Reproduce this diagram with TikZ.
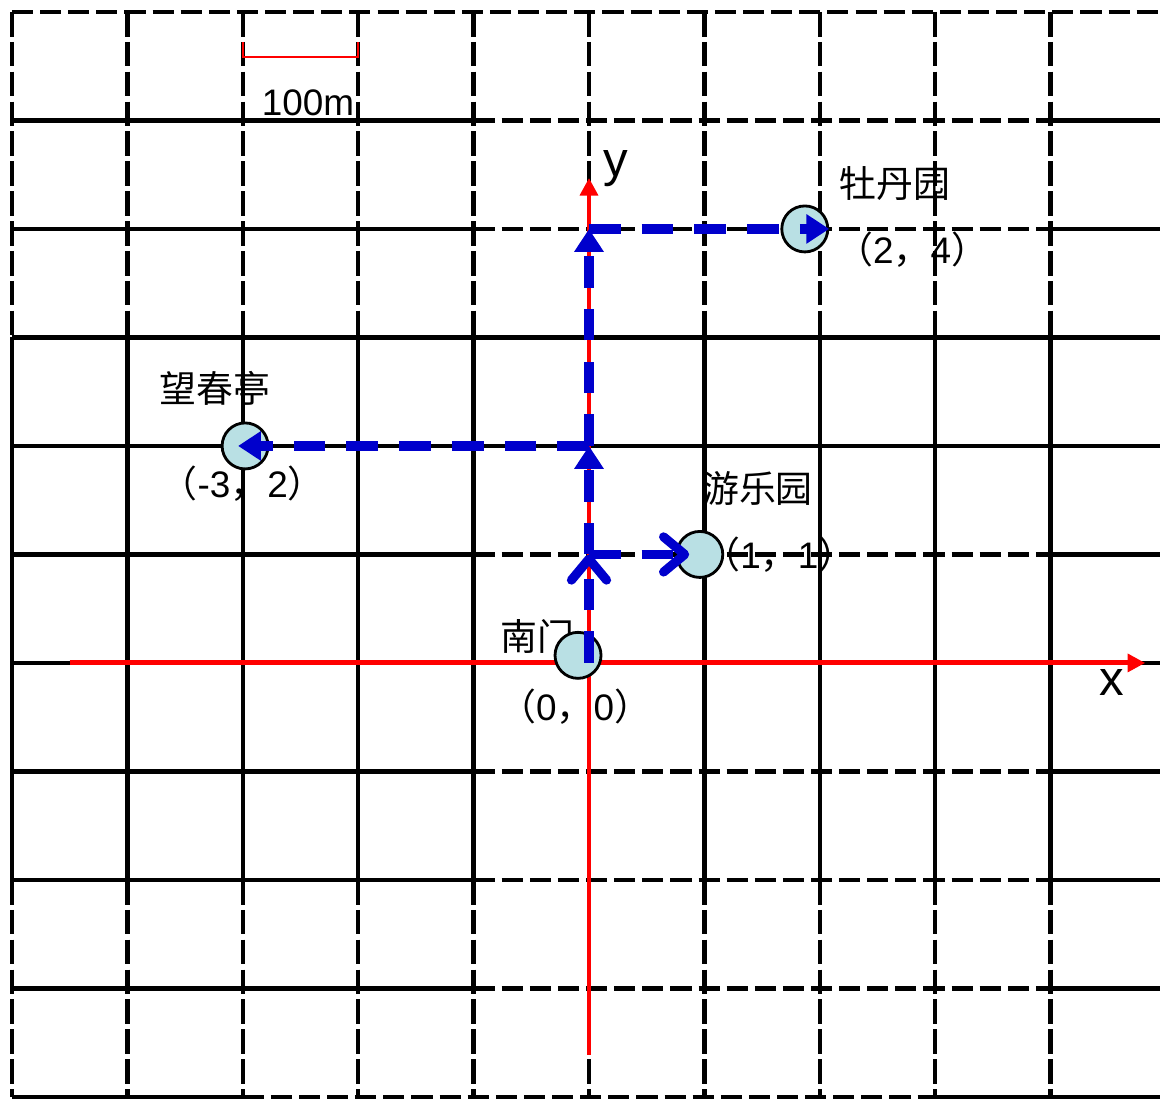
\documentclass[tikz,border=0pt]{standalone}
\usepackage{fontspec}
\setmainfont{Liberation Sans}
\newfontfamily\cjk{Noto Sans CJK SC}
\usetikzlibrary{arrows.meta}
\definecolor{routeblue}{RGB}{0,0,204}
\definecolor{spotcyan}{RGB}{185,224,228}
\newcommand{\ptxy}[2]{{\cjk （}#1{\cjk ，}#2{\cjk ）}}

\begin{document}
\begin{tikzpicture}[x=1.154cm, y=1.085cm,
    gridsolid/.style={line width=1.25pt, black},
    griddash/.style={line width=1.25pt, black, dash pattern=on 6pt off 2pt},
    vdash/.style={line width=1.25pt, black, dash pattern=on 7pt off 1.5pt},
    axis/.style={line width=1.4pt, red, -{Triangle[length=5pt,width=5pt]}},
    route/.style={line width=2.6pt, routeblue, dash pattern=on 9pt off 6pt},
    fillhead/.style={-{Triangle[length=6.5pt,width=8pt]}},
    openhead/.style={-{Straight Barb[length=6pt,width=10pt,round]}},
    spot/.style={circle, draw, line width=0.8pt, fill=spotcyan, minimum size=0.46cm, inner sep=0pt},
    lbl/.style={font=\fontsize{10.5}{12}\selectfont\cjk, inner sep=0pt},
    coord/.style={font=\fontsize{10.5}{12}\selectfont, inner sep=0pt},
    axlbl/.style={font=\fontsize{14}{16}\selectfont, inner sep=0pt}
]
\useasboundingbox (-5.104,-4.02) rectangle (4.948,6.11);

% grid
\foreach \i in {-5,...,4} {
  \draw[vdash] (\i,6) -- (\i,3);
  \draw[gridsolid] (\i,3) -- (\i,-2);
  \draw[vdash] (\i,-2) -- (\i,-4);
}
\draw[griddash] (-5,6) -- (4.95,6);
\foreach \j in {5,4,1,-1,-2,-3} {
  \draw[gridsolid] (-5,\j) -- (-1,\j);
  \draw[griddash] (-1,\j) -- (4,\j);
  \draw[gridsolid] (4,\j) -- (4.95,\j);
}
\foreach \j in {3,2,0} \draw[gridsolid] (-5,\j) -- (4.95,\j);
\draw[gridsolid] (-5,-4) -- (-3,-4);
\draw[griddash] (-3,-4) -- (3,-4);
\draw[gridsolid] (3,-4) -- (4.95,-4);

% scale
\draw[red, line width=0.7pt] (-3,5.72) |- (-2,5.585) -- (-2,5.72);
\node[coord] (scale) at (-2.435,5.16) {100m};

% axes
\coordinate (xstart) at (-4.5,0);
\coordinate (xend) at (4.82,0);
\coordinate (ystart) at (0,-3.61);
\coordinate (yend) at (0,4.47);
\draw[axis] (xstart) -- (xend);
\draw[axis] (ystart) -- (yend);
\node[axlbl] (xlbl) at (4.53,-0.18) {x};
\node[axlbl] (ylbl) at (0.234,4.56) {y};

% labels
\node[lbl] (mudanlbl) at (2.65,4.42) {牡丹园};
\node[coord] (mudanxy) at (2.80,3.81) {\ptxy{2}{4}};
\node[lbl] (wangchunlbl) at (-3.24,2.53) {望春亭};
\node[coord] (wangchunxy) at (-3.0,1.65) {\ptxy{-3}{2}};
\node[lbl] (youlelbl) at (1.46,1.61) {游乐园};
\node[coord] (youlexy) at (1.65,1.0) {\ptxy{1}{1}};
\node[lbl] (nanmenlbl) at (-0.45,0.24) {南门};
\node[coord] (nanmenxy) at (-0.12,-0.40) {\ptxy{0}{0}};

% spots
\node[spot] (nanmen) at (-0.095,0.07) {};
\node[spot] (youle) at (0.96,1) {};
\node[spot] (wangchun) at (-2.98,2) {};
\node[spot] (mudan) at (1.87,4) {};

% route
\coordinate (origin) at (0,0);
\coordinate (c01) at (0,1);
\coordinate (c02) at (0,2);
\coordinate (c04) at (0,4);
\draw[route, openhead] (origin) -- (c01);
\draw[route, openhead, shorten >=3pt] (c01) -- (youle.center);
\draw[route, fillhead] (c01) -- (c02);
\draw[route, fillhead, shorten >=-2pt] (c02) -- (wangchun.center);
\draw[route, fillhead] (c02) -- (c04);
\draw[route, fillhead] (c04) -- (mudan.east);
\end{tikzpicture}
\end{document}
